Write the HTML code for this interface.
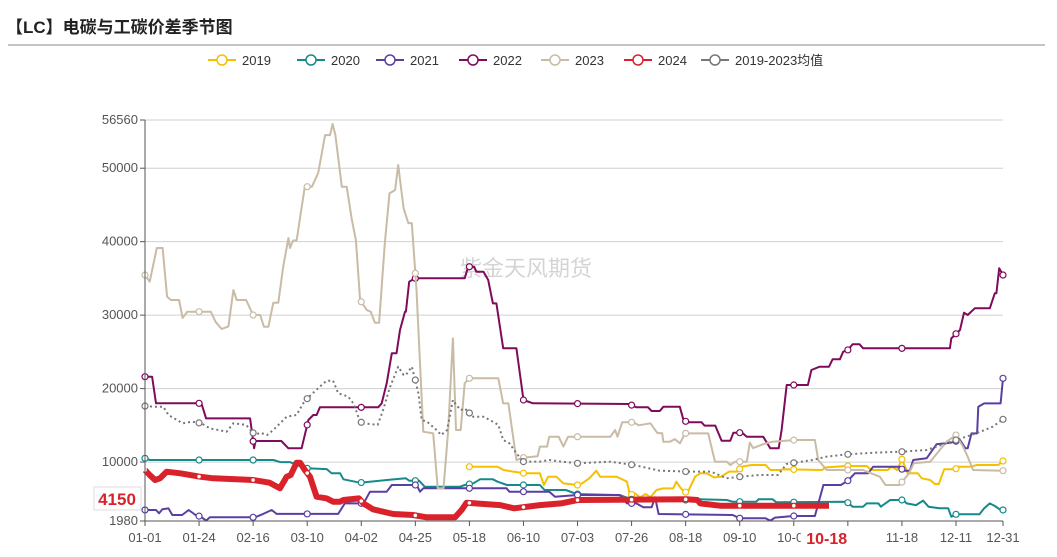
<!DOCTYPE html>
<html><head><meta charset="utf-8">
<style>
body{margin:0;background:#fff;width:1057px;height:552px;overflow:hidden;font-family:"Liberation Sans","Noto Sans CJK SC",sans-serif;}
svg text{font-family:"Liberation Sans","Noto Sans CJK SC",sans-serif;}
</style></head>
<body>
<svg id="chart" width="1057" height="552" xmlns="http://www.w3.org/2000/svg">
<text x="6" y="33" font-size="17" font-weight="bold" fill="#222">【LC】电碳与工碳价差季节图</text>
<line x1="8" y1="45" x2="1045" y2="45" stroke="#888" stroke-width="1"/>
<text x="460" y="276" font-size="22" fill="#d4d4d4">紫金天风期货</text>
<g id="grid"></g><g id="series"></g><g id="axes"></g><g id="legend"></g>
</svg>
<script>
const yTicks=[56560,50000,40000,30000,20000,10000,1980];
const xTickLabels=["01-01","01-24","02-16","03-10","04-02","04-25","05-18","06-10","07-03","07-26","08-18","09-10","10-03","10-26","11-18","12-11","12-31"];
const xTickDays=[0,23,46,69,92,115,138,161,184,207,230,253,276,299,322,345,365];
const seriesNames=["2019","2020","2021","2022","2023","2024","2019-2023均值"];
const s2019=[[138,9370],[150,9370],[152.5,8920],[156.6,8700],[161.6,8470],[168,8470],[169.7,6880],[171.5,8010],[175,8010],[178,7100],[184,6880],[186,7110],[189,7790],[192,8820],[193.6,8010],[200.6,8010],[203.6,7560],[205,7330],[206.3,5520],[208.5,5740],[210.6,5200],[213,5650],[215,5200],[217.6,6200],[220.4,6420],[224.7,6420],[226,7330],[228,6420],[229.7,5880],[231,5970],[234,8010],[236.2,8470],[239,8470],[242,7920],[245,8010],[248.5,8700],[252,8700],[253.8,9370],[258,9600],[264,9600],[266,8920],[270,8920],[271.5,9020],[288,8920],[289.5,9280],[298.5,9470],[307,9470],[309,8920],[316,8920],[317.6,9370],[320,8920],[322,10380],[324.5,8470],[328.8,8470],[330.4,7790],[334,7560],[336,7020],[337.7,7020],[340,9020],[344.7,9020],[346,9370],[351,9370],[354,9600],[363,9600],[365,10150]];
const s2020=[[0,10510],[2,10280],[54.6,10280],[57.5,10000],[61.7,10000],[64.5,9600],[68.8,9150],[77.3,9040],[79.4,8470],[83,8470],[84.4,7660],[91.4,7190],[102.8,7560],[111,7790],[112.4,7470],[116.6,7470],[119,6650],[134,6650],[136,6880],[139.7,7110],[142.5,7660],[148,7660],[150,7330],[154,6880],[168,6880],[170,6200],[179,6200],[183.6,5650],[202,5500],[207.7,4840],[233,4840],[236,4930],[247.4,4840],[250,4610],[260,4610],[261,4930],[267,4930],[268.6,4520],[298.5,4610],[301,3930],[305.5,3930],[307,4380],[312,4380],[313,3930],[317,4840],[322.6,4840],[324,4380],[328,4150],[331,4750],[333.3,3930],[338,3710],[341.7,3710],[343,2570],[345,2890],[355,2890],[357,3710],[359.4,4380],[361.5,4020],[363.6,3570],[365,3480]];
const s2021=[[0,3480],[4.7,3480],[6,3030],[7.4,3570],[10,3700],[11.6,2800],[15.8,2800],[18.6,3480],[21.5,2800],[23.7,2570],[26,2030],[27.6,2480],[46.8,2480],[50.3,2940],[53.9,3480],[56,2940],[82.2,2940],[85,4380],[93,4380],[95.7,5970],[102.8,5970],[105,6880],[115.6,6880],[117,5970],[118.4,6430],[153.8,6430],[155,5970],[172,5970],[174.4,5290],[184,5520],[202,5520],[205,4380],[209,4380],[212,3840],[215.5,3840],[217,5200],[218.5,2930],[250,2800],[253,2350],[264,2350],[266,2030],[268,2440],[275.8,2660],[285,2660],[288.6,6880],[296,6880],[299,7470],[302,8470],[307.6,8470],[309.8,9370],[321,9370],[322.6,8830],[325.4,8830],[326.8,10280],[332.5,10510],[336.7,12420],[343,12650],[346.7,13000],[349,11870],[350,11870],[351.6,13910],[354,13910],[354.5,17540],[357,17980],[364,17980],[365,21400]];
const s2022=[[0,21620],[3,21620],[4.7,18000],[24,18000],[26,15950],[44.7,15950],[46.4,11870],[47,12870],[58,12870],[61,11870],[66.6,11870],[69.5,15730],[71.6,16410],[73,16410],[74.4,17450],[99.2,17450],[100.7,18000],[102.8,20720],[105,24800],[107,24800],[108.5,27980],[110.6,30470],[111,30470],[112.4,34550],[114.8,35010],[136,35010],[137.5,36590],[140,36590],[141,35900],[144,35900],[146,34780],[148,31600],[149.5,31600],[152.4,25480],[158,25480],[161,18450],[165,18000],[206,17900],[209,17450],[214,17450],[215.5,16950],[219,16950],[220.5,17520],[227.5,17520],[229,15820],[230.5,15410],[236.8,15410],[238,14960],[242.6,14960],[245.3,12910],[249,12910],[250.3,14000],[254,14000],[256,13450],[263,13450],[266,11870],[269.6,11870],[270.8,14360],[273,20490],[282,20490],[283.5,22530],[287,22980],[291,22980],[292.5,23990],[295.6,23990],[297,25030],[299,25260],[301,26030],[304,26030],[305.5,25480],[342.4,25480],[343,26840],[346.7,27980],[348.4,30330],[350,30020],[353,30930],[359.4,30930],[361.5,32970],[362.2,32970],[363.4,36370],[365,35460]];
const s2023=[[0,35460],[2,34550],[5,39140],[7.5,39140],[9.4,32510],[11,32060],[14.5,32060],[16,29610],[18,30470],[28,30470],[30,29100],[32.6,28110],[35.5,28470],[37.6,33420],[39,32060],[43,32060],[46,30020],[49,30020],[50.6,28420],[52.5,28420],[54.6,31690],[56.7,31690],[58.8,36590],[61,40500],[61.7,39140],[63,40160],[64.5,40160],[68,47480],[71,47480],[73.7,49340],[76.6,54500],[78.7,54500],[79.8,56010],[81,54500],[83.7,47480],[85.8,47480],[88,42940],[89.7,40220],[91.5,32060],[94.3,30700],[96,30470],[97.8,28970],[99.6,28970],[102,39770],[104,46570],[106.4,47030],[107.7,50430],[110,44540],[112,42530],[113.5,42530],[115.5,33420],[118.4,14130],[122.6,13910],[124.5,6430],[127,6430],[129,14360],[131,26840],[132.3,14360],[134.3,14360],[136,20720],[138,21400],[150.3,21400],[152.4,17980],[154.6,17980],[158,10280],[161,10600],[167,10800],[168,12100],[171,12100],[172,13450],[176,13450],[178,12100],[180,13450],[198,13450],[200,14360],[201,13450],[203,15410],[208,15410],[210,15000],[215,15280],[218,13950],[220,13950],[220.5,12770],[223.3,12770],[225.4,13120],[227.6,12560],[229.7,13910],[239.6,13910],[242.5,10050],[247.5,10050],[249,9600],[251,10050],[256,10050],[257.3,12650],[258.7,11900],[263,12430],[267,12770],[276.5,13000],[285,13000],[286.4,10280],[290,8920],[305.5,8920],[309,8460],[312.6,8010],[315,6880],[321,6880],[325,8460],[327,9830],[334,10050],[341,12770],[345,13680],[348,12100],[350,10730],[352.3,8920],[365,8830]];
const s2024=[[0,8920],[2,8240],[4.3,7560],[6.4,7790],[9.2,8690],[15,8470],[23.4,8010],[29,7790],[46,7560],[53,7190],[57.4,6430],[60.3,8010],[62,8240],[64.5,9920],[66,9920],[68,8920],[70.2,8010],[73,5290],[77.3,5060],[80,4610],[83,4610],[84.4,4840],[91,5060],[92.9,4380],[97,3570],[105.6,2930],[114,2800],[119.8,2480],[131.9,2480],[134.7,3480],[136.8,4470],[151,4150],[157,3710],[168,4150],[177,4380],[184,4840],[230.4,4930],[235,4840],[236.2,4380],[244.6,4060],[274,4060],[291,4060]];
const sAvg=[[0,17630],[3.5,17540],[7.8,17540],[10,16410],[16,15280],[20,15500],[24,15280],[27.6,14590],[34.7,14130],[37.6,15280],[43,15060],[46.8,13680],[49,14000],[52,13680],[54.6,14360],[60.3,16180],[64.5,16410],[67.3,18000],[69.5,18810],[74.4,20270],[77.3,21080],[80,21080],[82.2,19360],[84.4,19140],[86.5,18900],[88.6,18000],[90,16860],[91.4,15500],[93,15280],[99,15060],[101.3,17080],[104,20040],[107.7,22980],[110,21850],[111,21850],[113.5,22980],[115,21170],[116.3,19360],[117.7,15730],[120,15500],[124,14360],[126,13680],[128.5,14360],[131,18450],[132.4,17770],[134.4,17080],[136,17310],[139.6,16180],[144,16180],[148,15500],[150.3,15060],[152.4,13000],[155,12560],[158,11200],[161,10060],[168,10060],[172,10280],[177,10060],[184,9830],[198,10050],[208,9600],[219,8830],[231,8700],[240.7,8700],[247.4,7790],[253,8010],[261.6,8240],[269.3,8240],[272.9,9740],[276.5,9920],[284,10280],[290,10740],[299,11060],[311,11290],[322.6,11420],[332.5,11650],[345,13000],[353.5,13910],[360.6,14820],[365,15820]];

const NS="http://www.w3.org/2000/svg";
const X0=145,X1=1003,Y0=521,Y1=120,VMIN=1980,VMAX=56560;
function xs(d){return X0+d*(X1-X0)/365;}
function ys(v){return Y0-(v-VMIN)*(Y0-Y1)/(VMAX-VMIN);}
function mk(tag,attrs,parent){const e=document.createElementNS(NS,tag);for(const k in attrs)e.setAttribute(k,attrs[k]);parent.appendChild(e);return e;}
function interp(s,d){if(d<s[0][0]||d>s[s.length-1][0])return null;for(let i=1;i<s.length;i++){if(s[i][0]>=d){const a=s[i-1],b=s[i];const t=(d-a[0])/((b[0]-a[0])||1);return a[1]+t*(b[1]-a[1]);}}return s[s.length-1][1];}
const grid=document.getElementById('grid'),axes=document.getElementById('axes'),ser=document.getElementById('series'),leg=document.getElementById('legend');
yTicks.forEach(v=>{
 const y=ys(v);
 if(v!==VMIN){const g=mk('line',{x1:X0,x2:X1,y1:y,y2:y,stroke:'#d0d0d0','stroke-width':1},grid);
 
 }
 const t=mk('text',{x:X0-7,y:y+4,'text-anchor':'end','font-size':13,fill:'#555'},axes);t.textContent=v;
 
 
 mk('line',{x1:X0-5,x2:X0,y1:y,y2:y,stroke:'#555'},axes);
});
const ya=mk('line',{x1:X0,x2:X0,y1:Y1,y2:Y0,stroke:'#555'},axes);


const xa=mk('line',{x1:X0,x2:X1,y1:Y0,y2:Y0,stroke:'#555'},axes);


xTickLabels.forEach((l,i)=>{
 const x=xs(xTickDays[i]);
 mk('line',{x1:x,x2:x,y1:Y0,y2:Y0+5,stroke:'#555'},axes);
 if(l==='10-26')return;
 const t=mk('text',{x:x,y:542,'text-anchor':'middle','font-size':13,fill:'#555'},axes);t.textContent=l;
 
 
});
// highlighted current date
const hx=xs(290);
mk('rect',{x:hx-26,y:527,width:52,height:22,fill:'#fff'},axes);
const hl=mk('text',{x:hx,y:544,'text-anchor':'middle','font-size':16,'font-weight':'bold',fill:'#d9222a'},axes);hl.textContent='10-18';



const colors=['#f5c000','#168a8a','#5a3fa3','#7e0b5b','#c9bba6','#d9222a','#777'];
const all=[s2019,s2020,s2021,s2022,s2023,sAvg,s2024];
const order=[0,1,2,3,4,6,5];
order.forEach((si,k)=>{
 const s=all[k];const c=colors[si];
 const pts=s.map(p=>xs(p[0]).toFixed(1)+','+ys(p[1]).toFixed(1)).join(' ');
 const isAvg=si===6,isCur=si===5;
 const pl=mk('polyline',{points:pts,fill:'none',stroke:c,'stroke-width':isCur?6:(isAvg?2:2),'stroke-dasharray':isAvg?'2 3':'none','stroke-linejoin':'round'},ser);
 
 
 xTickDays.forEach(d=>{
  const v=interp(s,d);if(v===null)return;
  const c2=mk('circle',{cx:xs(d),cy:ys(v),r:isCur?1.8:3,fill:'#fff',stroke:isCur?'none':c,'stroke-width':1.2},ser);
  
  
 });
});
// current value label
mk('rect',{x:94,y:487,width:47,height:23,fill:'#fff',stroke:'#ddd'},axes);
const cv=mk('text',{x:117,y:505,'text-anchor':'middle','font-size':17,'font-weight':'bold',fill:'#d9222a'},axes);cv.textContent='4150';


// legend
const legX=[208,297,376,459,541,624,701];
seriesNames.forEach((n,i)=>{
 const g=mk('g',{},leg);
 
 
 const x=legX[i];
 mk('line',{x1:x,x2:x+28,y1:60,y2:60,stroke:colors[i],'stroke-width':2},g);
 mk('circle',{cx:x+14,cy:60,r:5,fill:'#fff',stroke:colors[i],'stroke-width':1.5},g);
 const t=mk('text',{x:x+34,y:65,'font-size':13,fill:'#333'},g);t.textContent=n;
});
</script>
</body></html>
